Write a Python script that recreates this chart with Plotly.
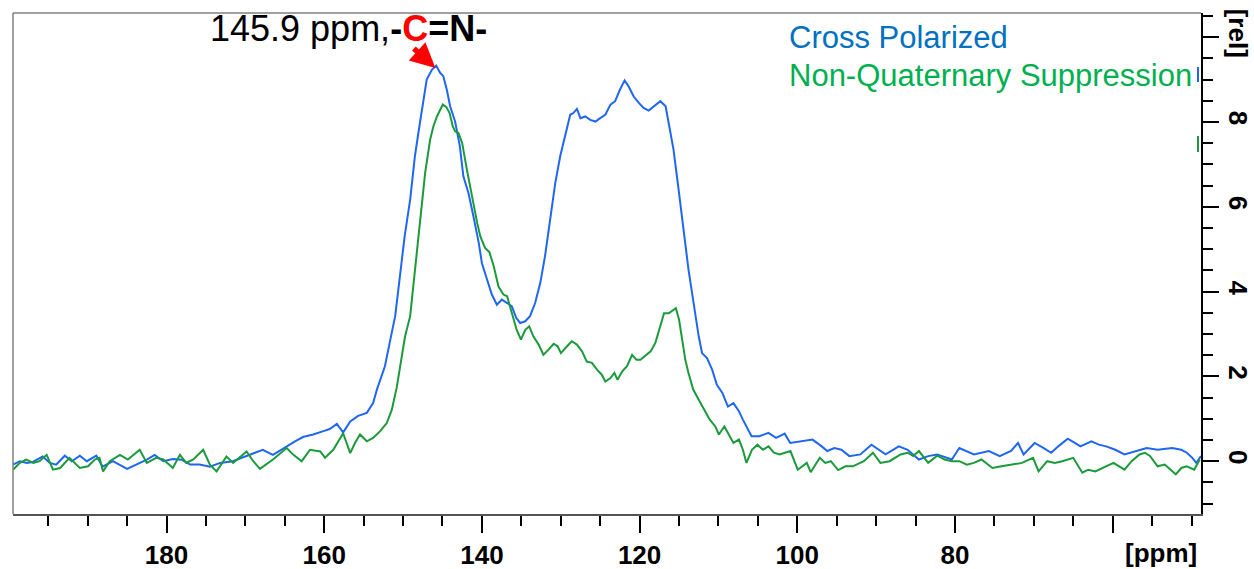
import plotly.graph_objects as go

# ---------------- data (ppm, relative intensity) ----------------
cp_ppm = [199.47, 198.6, 197.7, 197.0, 195.7, 194.8, 194.0, 192.9, 192.0, 191.0, 190.1, 188.9, 188.1,
          186.8, 185.0, 183.8, 182.5, 181.5, 180.4, 179.2, 178.1, 177.0, 175.8, 174.5, 173.2, 171.6,
          169.8, 167.8, 166.5, 164.7, 163.7, 162.7, 161.4, 160.1, 159.3, 158.4, 157.6, 156.7, 155.7,
          154.6, 153.8, 153.3, 152.9, 152.3, 151.7, 151.0, 150.4, 149.8, 149.1, 148.5, 148.06, 147.4,
          147.0, 146.35, 145.8, 145.3, 144.9, 144.45, 144.03, 143.4, 142.8, 142.35, 141.7, 141.07,
          140.4, 140.0, 139.37, 138.74, 138.1, 137.47, 136.8, 136.2, 135.65, 135.15, 134.5, 133.9,
          133.25, 132.6, 132.0, 131.35, 130.7, 130.07, 129.4, 128.8, 128.4, 127.95, 127.5, 126.9,
          126.26, 125.6, 125.0, 124.35, 123.7, 123.1, 122.5, 121.9, 121.4, 120.75, 120.1, 119.5,
          118.85, 118.2, 117.37, 116.7, 116.2, 115.7, 115.05, 114.4, 113.8, 113.15, 112.5, 112.08,
          111.45, 110.8, 110.2, 109.5, 108.8, 108.1, 107.4, 106.9, 106.2, 105.8, 104.8, 103.66,
          102.7, 101.6, 100.9, 99.5, 98.07, 96.9, 96.2, 95.3, 94.4, 93.4, 92.0, 90.6, 89.7, 88.8,
          87.13, 86.0, 84.58, 83.4, 82.25, 80.4, 79.45, 78.5, 77.6, 75.7, 74.33, 72.9, 72.0, 71.3,
          69.9, 68.75, 67.8, 66.9, 65.7, 64.8, 64.1, 62.7, 61.76, 60.83, 59.67, 58.5, 57.1, 55.7,
          54.3, 52.45, 51.3, 50.6, 49.9, 49.4, 48.8]
cp_val = [-0.08, 0.0, -0.04, -0.02, 0.11, -0.04, -0.08, 0.13, 0.0, 0.13, 0.0, 0.13, -0.13,
          0.0, -0.18, -0.08, 0.035, 0.15, 0.0, 0.05, 0.035, -0.08, -0.08, -0.13, -0.04, 0.0,
          0.13, 0.27, 0.15, 0.36, 0.47, 0.57, 0.63, 0.71, 0.76, 0.88, 0.68, 0.94, 1.07,
          1.14, 1.37, 1.70, 1.90, 2.24, 2.79, 3.42, 4.36, 5.30, 6.17, 7.19, 7.74, 8.53,
          9.0, 9.23, 9.33, 9.16, 9.08, 8.76, 8.37, 8.01, 7.43, 6.72, 6.32, 5.77,
          5.15, 4.67, 4.28, 3.93, 3.69, 3.81, 3.73, 3.65, 3.38, 3.26, 3.30, 3.42,
          3.73, 4.2, 4.83, 5.70, 6.56, 7.19, 7.74, 8.17, 8.21, 8.31, 8.09, 8.13,
          8.05, 8.01, 8.09, 8.17, 8.41, 8.49, 8.76, 8.98, 8.84, 8.60, 8.45, 8.33,
          8.27, 8.37, 8.49, 8.37, 7.90, 7.35, 6.40, 5.38, 4.52, 3.73, 2.94, 2.55,
          2.43, 2.16, 1.80, 1.61, 1.29, 1.37, 1.18, 0.98, 0.75, 0.59, 0.59, 0.67,
          0.55, 0.65, 0.43, 0.47, 0.51, 0.35, 0.24, 0.31, 0.27, 0.12, 0.16, 0.39, 0.27, 0.16,
          0.35, 0.27, 0.04, 0.12, 0.16, 0.04, 0.31, 0.24, 0.16, 0.24, 0.12, 0.24, 0.43, 0.16,
          0.43, 0.31, 0.2, 0.35, 0.53, 0.43, 0.35, 0.47, 0.39, 0.35, 0.27, 0.16, 0.24, 0.31,
          0.27, 0.31, 0.27, 0.2, 0.08, -0.04, 0.12]

nq_ppm = [199.47, 198.6, 197.8, 196.9, 196.1, 195.2, 194.4, 193.5, 192.3, 191.0, 189.95, 189.1,
          188.5, 188.05, 187.2, 185.9, 184.9, 183.4, 182.5, 181.3, 180.4, 179.2, 178.3, 177.5,
          176.6, 175.35, 174.5, 173.65, 172.4, 171.55, 169.85, 169.0, 168.15, 166.5, 164.76,
          163.9, 162.86, 161.8, 160.5, 159.9, 158.85, 157.6, 156.7, 156.1, 155.46, 154.6, 153.8,
          152.9, 152.07, 151.43, 150.8, 150.2, 149.75, 149.1, 148.5, 147.8, 147.2, 146.57,
          146.15, 145.7, 145.3, 144.96, 144.5, 144.1, 143.7, 143.4, 142.97, 142.5, 141.9, 141.3,
          140.6, 140.2, 139.6, 139.05, 138.5, 137.9, 137.27, 136.8, 136.2, 135.6, 135.05, 134.5,
          134.0, 133.46, 132.8, 132.2, 131.55, 130.9, 130.4, 129.98, 129.2, 128.6, 127.95, 127.3,
          126.7, 126.05, 125.4, 124.8, 124.35, 123.7, 123.2, 122.8, 122.2, 121.6, 120.95, 120.4,
          119.9, 119.2, 118.6, 118.0, 117.4, 116.9, 116.3, 115.4, 115.0, 114.6, 114.2, 113.8,
          113.2, 112.5, 111.8, 111.1, 110.4, 109.95, 109.25, 108.55, 108.1, 107.4, 106.9, 106.45,
          105.75, 105.06, 104.36, 103.66, 102.96, 102.26, 101.57, 100.87, 99.94, 98.8, 98.3,
          97.15, 96.45, 95.75, 94.82, 93.9, 92.96, 91.56, 90.4, 89.46, 88.3, 86.9, 86.0, 85.3,
          84.57, 83.4, 82.25, 81.32, 80.38, 79.45, 78.5, 77.6, 76.65, 75.25, 74.1, 72.9, 71.5,
          70.1, 69.4, 68.3, 67.35, 66.4, 65.0, 63.85, 63.1, 62.2, 61.3, 59.9, 58.5, 57.6, 56.6,
          55.9, 55.25, 54.3, 53.4, 52.0, 51.3, 50.6, 49.66, 48.96]
nq_val = [-0.2, -0.04, 0.04, -0.04, 0.0, 0.15, -0.2, -0.16, 0.08, -0.16, -0.12, 0.04,
          0.08, -0.24, 0.0, 0.15, 0.04, 0.27, -0.04, 0.08, 0.04, -0.16, 0.15, -0.04,
          0.04, 0.27, -0.08, -0.24, 0.11, -0.04, 0.23, 0.0, -0.18, 0.04, 0.31,
          0.15, 0.0, 0.27, 0.23, 0.08, 0.27, 0.66, 0.19, 0.43, 0.63, 0.47, 0.55,
          0.71, 0.9, 1.21, 1.74, 2.47, 2.94, 3.42, 4.52, 5.77, 6.80, 7.58,
          7.90, 8.13, 8.29, 8.41, 8.35, 8.21, 7.90, 7.78, 7.74, 7.50, 6.87, 6.25,
          5.62, 5.30, 5.03, 4.93, 4.60, 4.12, 3.93, 3.89, 3.49, 3.10, 2.87, 3.10,
          3.18, 2.94, 2.75, 2.51, 2.63, 2.77, 2.71, 2.55, 2.71, 2.83, 2.75, 2.59,
          2.35, 2.32, 2.16, 2.04, 1.88, 1.96, 2.08, 1.92, 2.12, 2.24, 2.51, 2.39,
          2.39, 2.51, 2.59, 2.79, 3.18, 3.49, 3.49, 3.61, 3.34, 2.87, 2.39, 2.08,
          1.69, 1.45, 1.22, 0.98, 0.82, 0.63, 0.82, 0.59, 0.43, 0.51, 0.27, -0.04,
          0.27, 0.39, 0.27, 0.35, 0.2, 0.16, 0.2, 0.24, -0.2, -0.04, -0.26,
          0.08, -0.04, 0.0, -0.21, -0.12, -0.12, 0.0, 0.2, -0.04, 0.0, 0.16, 0.2, 0.12,
          0.24, -0.04, 0.13, 0.04, 0.0, 0.0, -0.08, -0.04, 0.04, -0.16, -0.12, -0.08, -0.04,
          0.08, -0.24, 0.0, -0.04, 0.0, 0.08, -0.27, -0.2, -0.24, -0.16, -0.04, -0.2, 0.0, 0.16,
          0.2, 0.12, -0.12, -0.08, -0.31, -0.16, -0.12, -0.2, 0.04]

x_tickvals = [180, 160, 140, 120, 100, 80, 60]
x_ticktext = ["180", "160", "140", "120", "100", "80", ""]
x_unit = "[ppm]"
y_tickvals = [0, 2, 4, 6, 8, 10]
y_ticktext = ["0", "2", "4", "6", "8", "[rel]"]

series_names = ["Cross Polarized", "Non-Quaternary Suppression"]
peak_label = "145.9 ppm,"
peak_pos = (145.9, 9.27)

FONT = "Liberation Sans, Arial, sans-serif"
BLUE_LINE = "#1f66f2"
GREEN_LINE = "#1a9a3a"

fig = go.Figure()
fig.add_trace(go.Scatter(x=cp_ppm, y=cp_val, mode="lines", name=series_names[0],
                         line=dict(color=BLUE_LINE, width=2)))
fig.add_trace(go.Scatter(x=nq_ppm, y=nq_val, mode="lines", name=series_names[1],
                         line=dict(color=GREEN_LINE, width=2)))

W, H = 1254, 569
L, R, T, B = 13, 53, 13, 55
pw, ph = W - L - R, H - T - B


def px(xpix):
    return (xpix - L) / pw


def py(ypix):
    return (H - B - ypix) / ph


fig.update_layout(
    width=W, height=H,
    margin=dict(l=L, r=R, t=T, b=B, pad=0, autoexpand=False),
    paper_bgcolor="white", plot_bgcolor="white",
    showlegend=False,
    font=dict(family=FONT, color="black"),
    xaxis=dict(
        range=[199.47, 48.8], autorange=False, automargin=False,
        tickmode="array", tickvals=x_tickvals, ticktext=x_ticktext,
        ticks="outside", ticklen=17, tickwidth=1.5, tickcolor="black",
        tickfont=dict(family=FONT, size=26, color="black", weight="bold"),
        showgrid=False, zeroline=False,
        showline=True, linecolor="#555555", linewidth=1.5,
        minor=dict(ticks="outside", ticklen=10, tickwidth=1.5, tickcolor="black",
                   dtick=5, tick0=0, showgrid=False),
    ),
    yaxis=dict(
        range=[-1.245, 10.57], autorange=False, side="right", automargin=False,
        tickmode="array", tickvals=y_tickvals, ticktext=y_ticktext,
        ticks="outside", ticklen=16, tickwidth=1.5, tickcolor="black",
        tickangle=90,
        tickfont=dict(family=FONT, size=26, color="black", weight="bold"),
        showgrid=False, zeroline=False,
        showline=True, linecolor="black", linewidth=2,
        minor=dict(ticks="outside", ticklen=10, tickwidth=1.5, tickcolor="black",
                   dtick=0.5, tick0=0, showgrid=False),
    ),
    shapes=[
        dict(type="line", xref="paper", yref="paper", x0=0, x1=0, y0=0, y1=1,
             line=dict(color="#808080", width=1.5)),
        dict(type="line", xref="paper", yref="paper", x0=0, x1=1, y0=1, y1=1,
             line=dict(color="#808080", width=1.5)),
        dict(type="line", xref="paper", yref="paper", x0=px(1198), x1=px(1198),
             y0=py(82), y1=py(67), line=dict(color=BLUE_LINE, width=2)),
        dict(type="line", xref="paper", yref="paper", x0=px(1198), x1=px(1198),
             y0=py(152), y1=py(136), line=dict(color=GREEN_LINE, width=2)),
    ],
    annotations=[
        dict(xref="paper", yref="paper", x=px(208), y=py(29), xanchor="left", yanchor="middle",
             showarrow=False,
             text=peak_label + "<b>-<span style='color:#ff0000'>C</span>=N-</b>",
             font=dict(family=FONT, size=36, color="black")),
        dict(xref="x", yref="y", x=peak_pos[0], y=peak_pos[1], ax=-23, ay=-21,
             text="", showarrow=True, arrowhead=2, arrowsize=0.9, arrowwidth=5.5,
             arrowcolor="#ff0000"),
        dict(xref="paper", yref="paper", x=px(787), y=py(38), xanchor="left", yanchor="middle",
             showarrow=False, text=series_names[0],
             font=dict(family=FONT, size=31, color="#0070c0")),
        dict(xref="paper", yref="paper", x=px(787), y=py(75), xanchor="left", yanchor="middle",
             showarrow=False, text=series_names[1],
             font=dict(family=FONT, size=31, color="#00b050")),
        dict(xref="paper", yref="paper", x=px(1199), y=py(553), xanchor="right",
             yanchor="middle", showarrow=False, text="<b>" + x_unit + "</b>",
             font=dict(family=FONT, size=26, color="black")),
    ],
)

fig.write_html("out.html")
